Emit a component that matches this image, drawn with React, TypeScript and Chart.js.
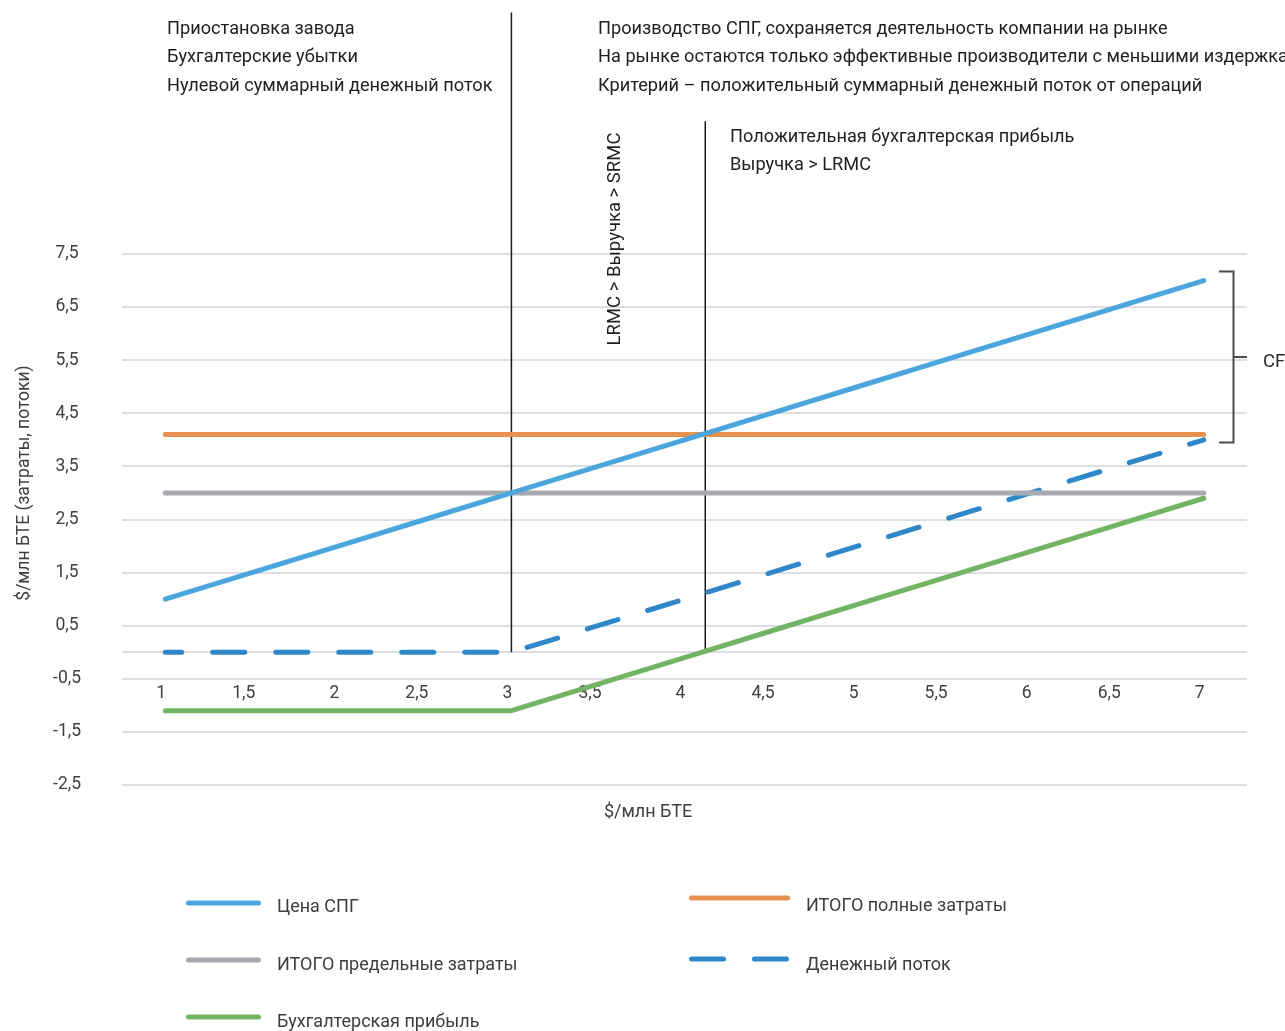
import React, { useEffect, useRef } from 'react';
import { Chart, registerables } from 'chart.js';

Chart.register(...registerables);

// ---------- data ----------
const xValues = [1, 1.5, 2, 2.5, 3, 3.5, 4, 4.5, 5, 5.5, 6, 6.5, 7];
const xIntegerTicks = [1, 2, 3, 4, 5, 6, 7];
const xHalfTicks = [1.5, 2.5, 3.5, 4.5, 5.5, 6.5];
const lngPrice = [1, 1.5, 2, 2.5, 3, 3.5, 4, 4.5, 5, 5.5, 6, 6.5, 7];
const totalFullCost = [4.1, 4.1, 4.1, 4.1, 4.1, 4.1, 4.1, 4.1, 4.1, 4.1, 4.1, 4.1, 4.1];
const totalMarginalCost = [3, 3, 3, 3, 3, 3, 3, 3, 3, 3, 3, 3, 3];
const cashFlow = [0, 0, 0, 0, 0, 0.5, 1, 1.5, 2, 2.5, 3, 3.5, 4];
const accountingProfit = [-1.1, -1.1, -1.1, -1.1, -1.1, -0.6, -0.1, 0.4, 0.9, 1.4, 1.9, 2.4, 2.9];
const yTickValues = [-2.5, -1.5, -0.5, 0, 0.5, 1.5, 2.5, 3.5, 4.5, 5.5, 6.5, 7.5];

const seriesNames = [
  'Цена СПГ',
  'ИТОГО полные затраты',
  'ИТОГО предельные затраты',
  'Денежный поток',
  'Бухгалтерская прибыль',
];
const seriesColors = ['#4aa6dd', '#e8914f', '#a7aab0', '#2e87c9', '#73b464'];

const xAxisTitle = '$/млн БТЕ';
const yAxisTitle = '$/млн БТЕ (затраты, потоки)';

const leftNotes = ['Приостановка завода', 'Бухгалтерские убытки', 'Нулевой суммарный денежный поток'];
const rightNotes = [
  'Производство СПГ, сохраняется деятельность компании на рынке',
  'На рынке остаются только эффективные производители с меньшими издержками',
  'Критерий – положительный суммарный денежный поток от операций',
];
const profitNotes = ['Положительная бухгалтерская прибыль', 'Выручка > LRMC'];
const rotatedNote = 'LRMC > Выручка > SRMC';
const bracketLabel = 'CF';

// marker lines (x value, top / bottom in y units)
const shutdownLine = { x: 3, yTop: 12.05, yBottom: 0 };
const breakEvenLine = { x: 4.12, yTop: 10, yBottom: 0 };
const cfBracket = { top: 7.17, bottom: 3.95 };

// ---------- layout (pixels) ----------
const W = 1285;
const H = 1031;
const FONT = 'Roboto, "Noto Sans", sans-serif';

const fmt = (v: number) => String(v).replace('.', ',');

const legendLayout = [
  { x0: 188.5, x1: 258.5, ly: 903, tx: 277, ty: 912 },
  { x0: 691.5, x1: 787.5, ly: 898, tx: 806, ty: 911 },
  { x0: 188.5, x1: 258.5, ly: 960, tx: 277, ty: 969.5 },
  { x0: 691.5, x1: 787.5, ly: 959, tx: 806, ty: 969.5 },
  { x0: 188.5, x1: 258.5, ly: 1017, tx: 277, ty: 1027 },
];

const annotationPlugin = {
  id: 'annotations',
  beforeDatasetsDraw(chart: any) {
    const { ctx } = chart;
    const xs = chart.scales.x;
    const ys = chart.scales.y;
    ctx.save();
    ctx.strokeStyle = '#1a1a1a';
    ctx.lineWidth = 1.5;
    for (const m of [shutdownLine, breakEvenLine]) {
      const px = xs.getPixelForValue(m.x);
      ctx.beginPath();
      ctx.moveTo(px, ys.getPixelForValue(m.yTop));
      ctx.lineTo(px, ys.getPixelForValue(m.yBottom));
      ctx.stroke();
    }
    ctx.restore();
  },
  afterDraw(chart: any) {
    const { ctx } = chart;
    const ys = chart.scales.y;
    ctx.save();
    ctx.textBaseline = 'alphabetic';
    ctx.textAlign = 'left';

    // top notes
    ctx.fillStyle = '#1f1f1f';
    ctx.font = `18.2px ${FONT}`;
    leftNotes.forEach((t, i) => ctx.fillText(t, 167, 33.5 + i * 28.5));
    rightNotes.forEach((t, i) => ctx.fillText(t, 598, 33.5 + i * 28.5));
    profitNotes.forEach((t, i) => ctx.fillText(t, 730, 141.5 + i * 28.5));

    // rotated note
    ctx.save();
    ctx.translate(619.5, 239);
    ctx.rotate(-Math.PI / 2);
    ctx.textAlign = 'center';
    ctx.font = `18.5px ${FONT}`;
    ctx.fillText(rotatedNote, 0, 0);
    ctx.restore();

    // CF bracket
    const bt = ys.getPixelForValue(cfBracket.top);
    const bb = ys.getPixelForValue(cfBracket.bottom);
    const bm = (bt + bb) / 2;
    ctx.strokeStyle = '#4d4d4d';
    ctx.lineWidth = 2;
    ctx.beginPath();
    ctx.moveTo(1219, bt);
    ctx.lineTo(1233.5, bt);
    ctx.lineTo(1233.5, bb);
    ctx.lineTo(1219, bb);
    ctx.moveTo(1233.5, bm);
    ctx.lineTo(1247, bm);
    ctx.stroke();
    ctx.fillStyle = '#2a2a2a';
    ctx.font = `18.5px ${FONT}`;
    ctx.fillText(bracketLabel, 1263, bm + 9.5);

    // axis titles
    ctx.fillStyle = '#404040';
    ctx.font = `18px ${FONT}`;
    ctx.textAlign = 'center';
    ctx.fillText(xAxisTitle, 648, 817);
    ctx.save();
    ctx.translate(29, 483);
    ctx.rotate(-Math.PI / 2);
    ctx.font = `17.5px ${FONT}`;
    ctx.fillText(yAxisTitle, 0, 0);
    ctx.restore();

    // legend
    ctx.textAlign = 'left';
    ctx.font = `18px ${FONT}`;
    chart.data.datasets.forEach((ds: any, i: number) => {
      const L = legendLayout[i];
      ctx.save();
      ctx.strokeStyle = ds.borderColor;
      ctx.lineWidth = 5;
      ctx.lineCap = 'round';
      ctx.setLineDash(ds.borderDash || []);
      ctx.beginPath();
      ctx.moveTo(L.x0, L.ly);
      ctx.lineTo(L.x1, L.ly);
      ctx.stroke();
      ctx.restore();
      ctx.fillStyle = '#3d3d3d';
      ctx.fillText(ds.label, L.tx, L.ty);
    });
    ctx.restore();
  },
};

const seriesValues = [lngPrice, totalFullCost, totalMarginalCost, cashFlow, accountingProfit];

const xTickFont = { family: FONT, size: 17.5 };

const makeXScale = (tickValues: number[], labelOffset: number, display = true) => ({
  type: 'linear' as const,
  display,
  min: 0.75,
  max: 7.25,
  position: { y: -0.5 } as any,
  afterBuildTicks: (s: any) => {
    s.ticks = tickValues.map((v) => ({ value: v }));
  },
  grid: { display: false, drawTicks: false },
  border: { display: false },
  ticks: {
    padding: 4,
    labelOffset,
    autoSkip: false,
    maxRotation: 0,
    color: '#404040',
    font: xTickFont,
    callback: (v: any) => fmt(Number(v)),
  },
});

export default function App() {
  const ref = useRef<HTMLCanvasElement | null>(null);

  useEffect(() => {
    if (!ref.current) return;
    const datasets = seriesValues.map((vals, i) => ({
      label: seriesNames[i],
      data: xValues.map((x, j) => ({ x, y: vals[j] })),
      xAxisID: 'x',
      yAxisID: 'y',
      borderColor: seriesColors[i],
      backgroundColor: seriesColors[i],
      borderWidth: 5,
      pointRadius: 0,
      pointHoverRadius: 0,
      tension: 0,
      fill: false,
      borderCapStyle: 'round' as const,
      borderJoinStyle: 'round' as const,
      borderDash: i === 3 ? [32, 31] : [],
      borderDashOffset: i === 3 ? 15.5 : 0,
    }));

    const chart = new Chart(ref.current, {
      type: 'line',
      data: { datasets },
      options: {
        responsive: false,
        animation: false,
        events: [],
        layout: { padding: { left: 0, right: W - 1247, top: 254, bottom: H - 785 } },
        plugins: {
          legend: { display: false },
          tooltip: { enabled: false },
          title: { display: false },
        },
        scales: {
          x: makeXScale(xIntegerTicks, -4),
          xHalf: makeXScale(xHalfTicks, -8),
          y: {
            type: 'linear',
            min: -2.5,
            max: 7.5,
            afterBuildTicks: (s: any) => {
              s.ticks = yTickValues.map((v) => ({ value: v }));
            },
            afterFit: (s: any) => {
              s.width = 122;
            },
            grid: { color: '#dcdee1', lineWidth: 2, drawTicks: false },
            border: { display: false },
            ticks: {
              padding: 41,
              crossAlign: 'center',
              color: '#404040',
              font: { family: FONT, size: 17.5 },
              callback: (v: any) => (Number(v) === 0 ? '' : fmt(Number(v))),
            },
          },
        } as any,
      },
      plugins: [annotationPlugin],
    });
    return () => chart.destroy();
  }, []);

  return (
    <div style={{ position: 'fixed', left: 0, top: 0, width: W, height: H, background: '#fff' }}>
      <canvas ref={ref} width={W} height={H} style={{ display: 'block', width: W, height: H }} />
    </div>
  );
}
